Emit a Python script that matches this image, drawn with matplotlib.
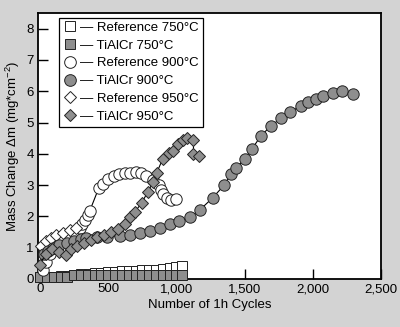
import matplotlib.pyplot as plt
from matplotlib.lines import Line2D

plt.rcParams["font.family"] = ["Liberation Sans", "DejaVu Sans"]
plt.rcParams["mathtext.default"] = "regular"

BG = "#d3d3d3"
GRAY = "#8e8e8e"

# Reference 750 C (open squares)
ref750_x = [0, 50, 100, 150, 200, 250, 300, 350, 400, 450, 500, 550, 600,
            650, 700, 750, 800, 850, 900, 950, 1000, 1040]
ref750_y = [0.06, 0.06, 0.07, 0.08, 0.09, 0.13, 0.15, 0.17, 0.19, 0.2, 0.21,
            0.22, 0.24, 0.25, 0.26, 0.27, 0.29, 0.3, 0.32, 0.34, 0.38, 0.4]
# TiAlCr 750 C (grey squares)
tial750_x = [0, 50, 100, 150, 200, 250, 300, 350, 400, 450, 500, 550, 600,
             650, 700, 750, 800, 850, 900, 950, 1000, 1040]
tial750_y = [0.06, 0.06, 0.06, 0.06, 0.07, 0.12, 0.13, 0.13, 0.13, 0.13, 0.13,
             0.13, 0.13, 0.13, 0.13, 0.13, 0.13, 0.13, 0.13, 0.13, 0.13, 0.13]

# Reference 900 C (open circles)
ref900_x = [20, 45, 70, 100, 130, 170, 205, 250, 290, 310, 330, 350, 365,
            430, 460, 500, 540, 580, 620, 660, 700, 740, 780, 830, 870, 890,
            900, 930, 960, 1000]
ref900_y = [0.3, 0.55, 0.8, 1.0, 1.15, 1.28, 1.4, 1.5, 1.62, 1.75, 1.9, 2.05,
            2.18, 2.9, 3.05, 3.2, 3.3, 3.35, 3.38, 3.4, 3.42, 3.4, 3.3, 3.15,
            3.0, 2.85, 2.7, 2.6, 2.52, 2.55]

# TiAlCr 900 C (grey circles)
tial900_x = [30, 60, 95, 140, 195, 250, 300, 340, 415, 490, 585, 660, 730,
             805, 880, 950, 1020, 1100, 1170, 1265, 1350, 1400, 1440, 1500,
             1555, 1620, 1695, 1770, 1835, 1915, 1965, 2020, 2075, 2150, 2215,
             2295]
tial900_y = [0.8, 0.9, 1.0, 1.08, 1.15, 1.22, 1.27, 1.3, 1.35, 1.35, 1.37,
             1.42, 1.47, 1.52, 1.63, 1.75, 1.85, 1.98, 2.2, 2.59, 3.0, 3.35,
             3.55, 3.84, 4.16, 4.58, 4.9, 5.15, 5.34, 5.54, 5.66, 5.76, 5.86,
             5.95, 6.02, 5.92]

# Reference 950 C (open diamonds)
ref950_x = [10, 40, 80, 120, 170, 220, 260]
ref950_y = [1.05, 1.2, 1.3, 1.4, 1.48, 1.55, 1.62]

# TiAlCr 950 C (grey diamonds)
tial950_x = [0, 40, 90, 140, 190, 230, 270, 320, 370, 420, 470, 520, 570,
             620, 660, 695, 745, 790, 830, 855, 900, 945, 975, 1010, 1050,
             1080, 1125, 1125, 1165]
tial950_y = [0.45, 0.8, 0.95, 0.85, 0.78, 0.95, 1.05, 1.15, 1.25, 1.33, 1.42,
             1.5, 1.6, 1.75, 1.98, 2.14, 2.43, 2.78, 3.1, 3.39, 3.84, 4.03,
             4.1, 4.3, 4.45, 4.52, 4.45, 4.0, 3.92]

series = [
    (ref750_x, ref750_y, "s", "white", "Reference 750°C", 2, False),
    (tial750_x, tial750_y, "s", GRAY, "TiAlCr 750°C", 3, False),
    (ref900_x, ref900_y, "o", "white", "Reference 900°C", 4, True),
    (tial900_x, tial900_y, "o", GRAY, "TiAlCr 900°C", 6, True),
    (ref950_x, ref950_y, "D", "white", "Reference 950°C", 5, True),
    (tial950_x, tial950_y, "D", GRAY, "TiAlCr 950°C", 7, True),
]

fig = plt.figure(figsize=(4.0, 3.27), dpi=100, facecolor=BG)
ax = fig.add_axes([0.095, 0.147, 0.8575, 0.813])

handles = []
for xs, ys, mk, fc, name, z, joined in series:
    ms = 7.2 if mk == "s" else (8.2 if mk == "o" else 6.2)
    ax.plot(xs, ys, linestyle="-" if joined else "none", color="black",
            linewidth=0.8, marker=mk, markersize=ms, markerfacecolor=fc,
            markeredgecolor="#222222", markeredgewidth=0.7, zorder=z,
            clip_on=False)
    handles.append(Line2D([], [], linestyle="none", marker=mk,
                          markersize=ms + 0.2, markerfacecolor=fc,
                          markeredgecolor="#222222", markeredgewidth=0.7,
                          label="— " + name))

ax.set_xlim(-15, 2500)
ax.set_ylim(0, 8.5)
ax.set_xticks([0, 500, 1000, 1500, 2000, 2500])
ax.set_xticklabels(["0", "500", "1,000", "1,500", "2,000", "2,500"])
ax.set_yticks(range(0, 9))
ax.tick_params(direction="in", length=7, width=1, labelsize=9.5, pad=3,
               colors="black")
for sp in ax.spines.values():
    sp.set_linewidth(1.3)

ax.set_xlabel("Number of 1h Cycles", fontsize=9.5, labelpad=3)
ax.set_ylabel("Mass Change Δm (mg*cm$^{-2}$)", fontsize=9.5, labelpad=3)

leg = ax.legend(handles=handles, loc="upper left",
                bbox_to_anchor=(0.062, 0.983), fontsize=9.5, frameon=True,
                fancybox=False, framealpha=1, edgecolor="black",
                handlelength=1.0, handletextpad=0.3, labelspacing=0.42,
                borderpad=0.3, borderaxespad=0)
leg.get_frame().set_linewidth(0.9)
leg.set_zorder(10)

fig.savefig("out.png", dpi=100, facecolor=BG)
